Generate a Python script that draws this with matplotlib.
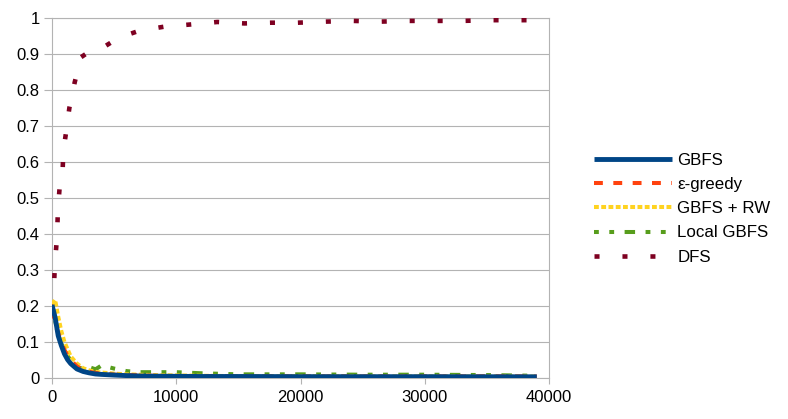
import numpy as np
import matplotlib.pyplot as plt

plt.rcParams['font.family'] = ['Liberation Sans', 'DejaVu Sans']

# expansions (x) and fraction values
x_low = [0, 250, 500, 750, 1000, 1250, 1500, 2000, 2500, 3000, 3500, 4000,
         5000, 6000, 7000, 8000, 10000, 12000, 15000, 20000, 25000, 30000,
         35000, 39000]
gbfs = [0.203, 0.168, 0.117, 0.090, 0.067, 0.051, 0.040, 0.025, 0.018, 0.014,
        0.011, 0.0098, 0.008, 0.0065, 0.0055, 0.005, 0.0045, 0.004, 0.004,
        0.0036, 0.0035, 0.0035, 0.0033, 0.0032]
eps_greedy = [0.19, 0.15, 0.125, 0.098, 0.078, 0.062, 0.050, 0.032, 0.022, 0.017,
              0.014, 0.012, 0.009, 0.008, 0.007, 0.006, 0.005, 0.005, 0.0045,
              0.004, 0.004, 0.004, 0.0045, 0.004]
gbfs_rw = [0.205, 0.217, 0.170, 0.130, 0.100, 0.080, 0.060, 0.040, 0.027, 0.021,
           0.017, 0.015, 0.012, 0.010, 0.009, 0.008, 0.007, 0.006, 0.005,
           0.005, 0.0045, 0.0045, 0.004, 0.004]
local_gbfs = [0.20, 0.160, 0.120, 0.095, 0.078, 0.062, 0.048, 0.032, 0.024, 0.030,
              0.024, 0.035, 0.026, 0.019, 0.016, 0.016, 0.016, 0.013, 0.010,
              0.010, 0.009, 0.009, 0.008, 0.006]

x_dfs = [0, 160, 240, 400, 480, 640, 830, 910, 1100, 1400, 1830, 2330, 3190,
         4100, 5360, 7050, 9040, 11130, 13300, 15480, 17650, 19770, 22030,
         24200, 26400, 28600, 30800, 33000, 35200, 37400, 38500]
dfs = [0.20, 0.258, 0.32, 0.39, 0.47, 0.541, 0.553, 0.629, 0.675, 0.751, 0.822,
       0.891, 0.911, 0.918, 0.945, 0.965, 0.976, 0.982, 0.989, 0.985, 0.987,
       0.987, 0.990, 0.992, 0.990, 0.992, 0.992, 0.992, 0.994, 0.994, 0.994]

fig = plt.figure(figsize=(7.88, 4.19), dpi=100)
ax = fig.add_axes([0.066, 0.098, 0.631, 0.859])

ax.plot(x_dfs, dfs, color='#7e0021', lw=3.3, linestyle=(0, (1.1, 5.0)),
        label='DFS', zorder=3)
ax.plot(x_low, local_gbfs, color='#579d1c', lw=2.9,
        linestyle=(0, (1.2, 2.6, 1.2, 2.6, 2.6, 2.6)), label='Local GBFS', zorder=4)
ax.plot(x_low, gbfs_rw, color='#ffd320', lw=2.9, linestyle=(0, (1.2, 0.6)),
        label='GBFS + RW', zorder=5)
ax.plot(x_low, eps_greedy, color='#ff420e', lw=2.9, linestyle=(0, (2.2, 2.6)),
        label='ε-greedy', zorder=6)
ax.plot(x_low, gbfs, color='#004586', lw=3.5, label='GBFS', zorder=7,
        solid_capstyle='butt')

ax.set_xlim(0, 40000)
ax.set_ylim(0, 1)
ax.set_xticks([0, 10000, 20000, 30000, 40000])
ax.set_yticks(np.arange(0, 11) / 10)
ax.set_yticklabels(['0', '0.1', '0.2', '0.3', '0.4', '0.5', '0.6', '0.7', '0.8', '0.9', '1'])
ax.grid(axis='y', color='#b3b3b3', lw=0.8)
ax.set_axisbelow(True)
for s in ax.spines.values():
    s.set_color('#b3b3b3')
    s.set_linewidth(0.8)
ax.tick_params(axis='y', length=6, width=0.8, color='#b3b3b3', pad=3, labelsize=12)
ax.tick_params(axis='x', length=4, width=0.8, color='#b3b3b3', pad=5, labelsize=12)

h, l = ax.get_legend_handles_labels()
fig.legend(h[::-1], l[::-1], loc='center left', bbox_to_anchor=(0.754, 0.502),
           frameon=False, fontsize=12.2, handlelength=4.6, handletextpad=0.3,
           labelspacing=0.55, borderpad=0, borderaxespad=0)

plt.savefig('out.png', dpi=100)
